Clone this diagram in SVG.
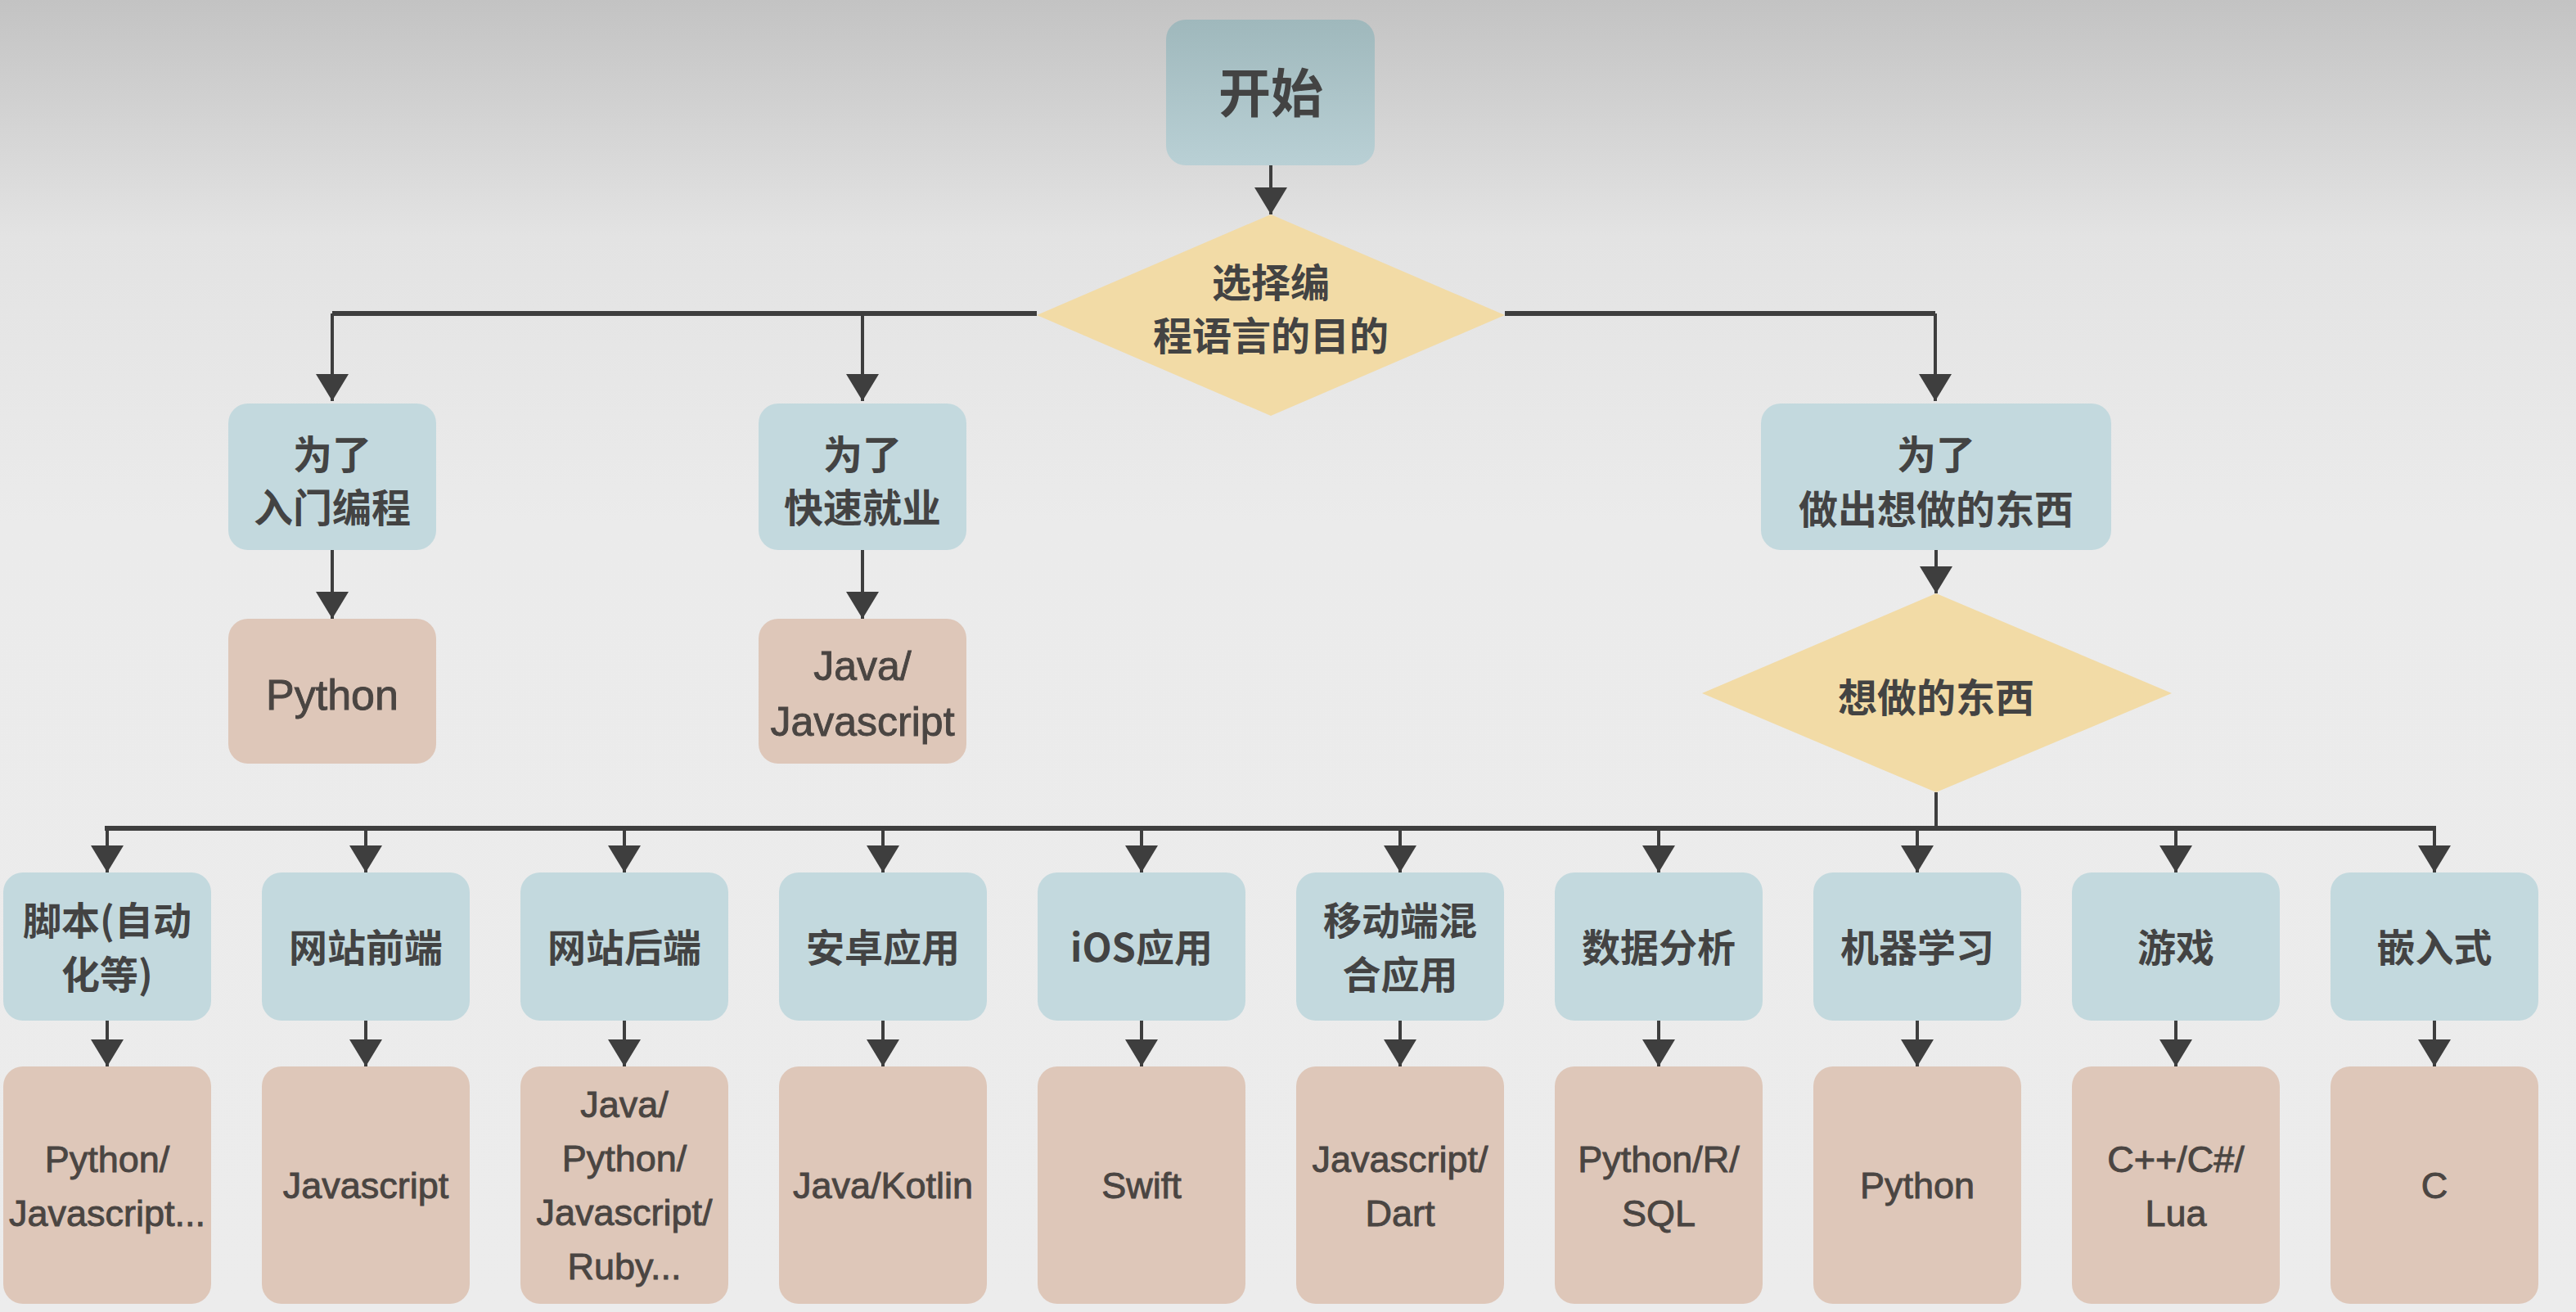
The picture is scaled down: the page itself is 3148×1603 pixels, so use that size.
<svg xmlns="http://www.w3.org/2000/svg" width="3148" height="1603" viewBox="0 0 3148 1603">
<defs>
<linearGradient id="bg" x1="0" y1="0" x2="0" y2="1">
<stop offset="0" stop-color="#c3c3c3"/>
<stop offset="0.18" stop-color="#e3e3e3"/>
<stop offset="0.4" stop-color="#ebebeb"/>
<stop offset="1" stop-color="#ececec"/>
</linearGradient>
<linearGradient id="startg" x1="0" y1="0" x2="0" y2="1">
<stop offset="0" stop-color="#9fb8bc"/>
<stop offset="1" stop-color="#b9d0d5"/>
</linearGradient>
<marker id="ah" markerUnits="userSpaceOnUse" markerWidth="34" markerHeight="42" refX="33" refY="20" orient="auto" viewBox="0 0 34 42">
<path d="M0,0 L33,20 L0,40 Z" fill="#3e3e3e"/>
</marker>
<style>
.blue{fill:#c3d9de}
.tan{fill:#dec7b9}
.dia{fill:#f2dba6}
.cn{font-family:"Noto Sans CJK SC","Noto Sans CJK JP",sans-serif;font-weight:700;fill:#434343;text-anchor:middle}
.en{font-family:"Liberation Sans","Noto Sans",sans-serif;fill:#4a4542;stroke:#4a4542;stroke-width:0.9;text-anchor:middle}
.h{stroke:#3e3e3e;stroke-width:6;fill:none}
.v{stroke:#3e3e3e;stroke-width:4;fill:none}
</style>
</defs>
<rect x="0" y="0" width="3148" height="1603" fill="url(#bg)"/>

<g id="connectors">
<line class="v" x1="1553" y1="202" x2="1553" y2="262" marker-end="url(#ah)"/>
<polyline class="h" points="1267,383 406,383"/>
<polyline class="h" points="1839,383 2365,383"/>
<line class="v" x1="406" y1="383" x2="406" y2="490" marker-end="url(#ah)"/>
<line class="v" x1="1054" y1="383" x2="1054" y2="490" marker-end="url(#ah)"/>
<line class="v" x1="2365" y1="383" x2="2365" y2="490" marker-end="url(#ah)"/>
<line class="v" x1="406" y1="672" x2="406" y2="756" marker-end="url(#ah)"/>
<line class="v" x1="1054" y1="672" x2="1054" y2="756" marker-end="url(#ah)"/>
<line class="v" x1="2366" y1="672" x2="2366" y2="725" marker-end="url(#ah)"/>
<line class="v" x1="2366" y1="968" x2="2366" y2="1012"/>
<polyline class="h" points="128,1012 2977,1012"/>
<line class="v" x1="131" y1="1012" x2="131" y2="1066" marker-end="url(#ah)"/>
<line class="v" x1="447" y1="1012" x2="447" y2="1066" marker-end="url(#ah)"/>
<line class="v" x1="763" y1="1012" x2="763" y2="1066" marker-end="url(#ah)"/>
<line class="v" x1="1079" y1="1012" x2="1079" y2="1066" marker-end="url(#ah)"/>
<line class="v" x1="1395" y1="1012" x2="1395" y2="1066" marker-end="url(#ah)"/>
<line class="v" x1="1711" y1="1012" x2="1711" y2="1066" marker-end="url(#ah)"/>
<line class="v" x1="2027" y1="1012" x2="2027" y2="1066" marker-end="url(#ah)"/>
<line class="v" x1="2343" y1="1012" x2="2343" y2="1066" marker-end="url(#ah)"/>
<line class="v" x1="2659" y1="1012" x2="2659" y2="1066" marker-end="url(#ah)"/>
<line class="v" x1="2975" y1="1012" x2="2975" y2="1066" marker-end="url(#ah)"/>
<line class="v" x1="131" y1="1247" x2="131" y2="1303" marker-end="url(#ah)"/>
<line class="v" x1="447" y1="1247" x2="447" y2="1303" marker-end="url(#ah)"/>
<line class="v" x1="763" y1="1247" x2="763" y2="1303" marker-end="url(#ah)"/>
<line class="v" x1="1079" y1="1247" x2="1079" y2="1303" marker-end="url(#ah)"/>
<line class="v" x1="1395" y1="1247" x2="1395" y2="1303" marker-end="url(#ah)"/>
<line class="v" x1="1711" y1="1247" x2="1711" y2="1303" marker-end="url(#ah)"/>
<line class="v" x1="2027" y1="1247" x2="2027" y2="1303" marker-end="url(#ah)"/>
<line class="v" x1="2343" y1="1247" x2="2343" y2="1303" marker-end="url(#ah)"/>
<line class="v" x1="2659" y1="1247" x2="2659" y2="1303" marker-end="url(#ah)"/>
<line class="v" x1="2975" y1="1247" x2="2975" y2="1303" marker-end="url(#ah)"/>
</g>

<g id="start">
<rect x="1425" y="24" width="255" height="178" rx="24" fill="url(#startg)"/>
<text class="cn" x="1553" y="137" font-size="64">开始</text>
</g>

<g id="purpose">
<polygon class="dia" points="1553,262 1839,385 1553,508 1267,385"/>
<text class="cn" x="1553" y="363" font-size="48">选择编</text>
<text class="cn" x="1553" y="428" font-size="48">程语言的目的</text>
</g>

<g id="beginner">
<rect class="blue" x="279" y="493" width="254" height="179" rx="24"/>
<text class="cn" x="406" y="573" font-size="48">为了</text>
<text class="cn" x="406" y="638" font-size="48">入门编程</text>
</g>
<g id="job">
<rect class="blue" x="927" y="493" width="254" height="179" rx="24"/>
<text class="cn" x="1054" y="573" font-size="48">为了</text>
<text class="cn" x="1054" y="638" font-size="48">快速就业</text>
</g>
<g id="make">
<rect class="blue" x="2152" y="493" width="428" height="179" rx="24"/>
<text class="cn" x="2366" y="573" font-size="48">为了</text>
<text class="cn" x="2366" y="640" font-size="48">做出想做的东西</text>
</g>

<g id="python-main">
<rect class="tan" x="279" y="756" width="254" height="177" rx="24"/>
<text class="en" x="406" y="867" font-size="52">Python</text>
</g>
<g id="java-main">
<rect class="tan" x="927" y="756" width="254" height="177" rx="24"/>
<text class="en" x="1054" y="831" font-size="50">Java/</text>
<text class="en" x="1054" y="899" font-size="50">Javascript</text>
</g>

<g id="want">
<polygon class="dia" points="2366,725 2654,847 2366,968 2080,847"/>
<text class="cn" x="2366" y="870" font-size="48">想做的东西</text>
</g>

<g id="c1">
<rect class="blue" x="4" y="1066" width="254" height="181" rx="24"/>
<text class="cn" x="131" y="1142" font-size="47">脚本(自动</text>
<text class="cn" x="131" y="1208" font-size="47">化等)</text>
</g>
<g id="c2">
<rect class="blue" x="320" y="1066" width="254" height="181" rx="24"/>
<text class="cn" x="447" y="1175" font-size="47">网站前端</text>
</g>
<g id="c3">
<rect class="blue" x="636" y="1066" width="254" height="181" rx="24"/>
<text class="cn" x="763" y="1175" font-size="47">网站后端</text>
</g>
<g id="c4">
<rect class="blue" x="952" y="1066" width="254" height="181" rx="24"/>
<text class="cn" x="1079" y="1175" font-size="47">安卓应用</text>
</g>
<g id="c5">
<rect class="blue" x="1268" y="1066" width="254" height="181" rx="24"/>
<text class="cn" x="1395" y="1175" font-size="47">iOS应用</text>
</g>
<g id="c6">
<rect class="blue" x="1584" y="1066" width="254" height="181" rx="24"/>
<text class="cn" x="1711" y="1142" font-size="47">移动端混</text>
<text class="cn" x="1711" y="1208" font-size="47">合应用</text>
</g>
<g id="c7">
<rect class="blue" x="1900" y="1066" width="254" height="181" rx="24"/>
<text class="cn" x="2027" y="1175" font-size="47">数据分析</text>
</g>
<g id="c8">
<rect class="blue" x="2216" y="1066" width="254" height="181" rx="24"/>
<text class="cn" x="2343" y="1175" font-size="47">机器学习</text>
</g>
<g id="c9">
<rect class="blue" x="2532" y="1066" width="254" height="181" rx="24"/>
<text class="cn" x="2659" y="1175" font-size="47">游戏</text>
</g>
<g id="c10">
<rect class="blue" x="2848" y="1066" width="254" height="181" rx="24"/>
<text class="cn" x="2975" y="1175" font-size="47">嵌入式</text>
</g>

<g id="l1">
<rect class="tan" x="4" y="1303" width="254" height="290" rx="24"/>
<text class="en" x="131" y="1432" font-size="45">Python/</text>
<text class="en" x="131" y="1498" font-size="45">Javascript...</text>
</g>
<g id="l2">
<rect class="tan" x="320" y="1303" width="254" height="290" rx="24"/>
<text class="en" x="447" y="1464" font-size="45">Javascript</text>
</g>
<g id="l3">
<rect class="tan" x="636" y="1303" width="254" height="290" rx="24"/>
<text class="en" x="763" y="1365" font-size="45">Java/</text>
<text class="en" x="763" y="1431" font-size="45">Python/</text>
<text class="en" x="763" y="1497" font-size="45">Javascript/</text>
<text class="en" x="763" y="1563" font-size="45">Ruby...</text>
</g>
<g id="l4">
<rect class="tan" x="952" y="1303" width="254" height="290" rx="24"/>
<text class="en" x="1079" y="1464" font-size="45">Java/Kotlin</text>
</g>
<g id="l5">
<rect class="tan" x="1268" y="1303" width="254" height="290" rx="24"/>
<text class="en" x="1395" y="1464" font-size="45">Swift</text>
</g>
<g id="l6">
<rect class="tan" x="1584" y="1303" width="254" height="290" rx="24"/>
<text class="en" x="1711" y="1432" font-size="45">Javascript/</text>
<text class="en" x="1711" y="1498" font-size="45">Dart</text>
</g>
<g id="l7">
<rect class="tan" x="1900" y="1303" width="254" height="290" rx="24"/>
<text class="en" x="2027" y="1432" font-size="45">Python/R/</text>
<text class="en" x="2027" y="1498" font-size="45">SQL</text>
</g>
<g id="l8">
<rect class="tan" x="2216" y="1303" width="254" height="290" rx="24"/>
<text class="en" x="2343" y="1464" font-size="45">Python</text>
</g>
<g id="l9">
<rect class="tan" x="2532" y="1303" width="254" height="290" rx="24"/>
<text class="en" x="2659" y="1432" font-size="45">C++/C#/</text>
<text class="en" x="2659" y="1498" font-size="45">Lua</text>
</g>
<g id="l10">
<rect class="tan" x="2848" y="1303" width="254" height="290" rx="24"/>
<text class="en" x="2975" y="1464" font-size="45">C</text>
</g>
</svg>
